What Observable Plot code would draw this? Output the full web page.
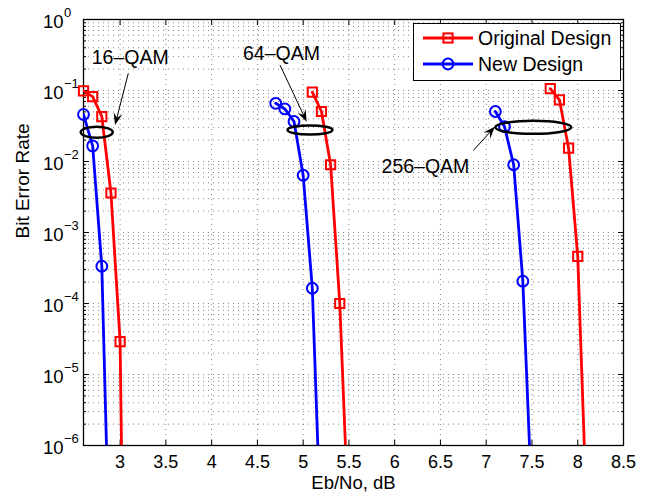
<!DOCTYPE html>
<html><head><meta charset="utf-8">
<script src="https://cdn.jsdelivr.net/npm/d3@7"></script>
<script src="https://cdn.jsdelivr.net/npm/@observablehq/plot@0.6"></script>
<style>
body{margin:0;background:#fff;}
#wrap{position:relative;width:652px;height:497px;font-family:"Liberation Sans",Arial,sans-serif;}
#legend{position:absolute;left:413px;top:23px;}
</style></head><body><div id="wrap"></div>
<script>
// ---- data ----
const xTicks = [3, 3.5, 4, 4.5, 5, 5.5, 6, 6.5, 7, 7.5, 8, 8.5];
const yExponents = [0, -1, -2, -3, -4, -5, -6];
const seriesNames = ["Original Design", "New Design"];
const xLabel = "Eb/No, dB";
const yLabel = "Bit Error Rate";

const ebno16Orig = [2.6, 2.7, 2.8, 2.9, 3.0, 3.1];
const ber16Orig  = [0.099, 0.082, 0.043, 0.0036, 2.9e-5, 5e-15];
const ebno16New  = [2.6, 2.7, 2.8, 2.9];
const ber16New   = [0.046, 0.0166, 3.35e-4, 3.8e-9];

const ebno64Orig = [5.1, 5.2, 5.3, 5.4, 5.5];
const ber64Orig  = [0.0946, 0.0506, 0.009, 1.0e-4, 5.9e-8];
const ebno64New  = [4.7, 4.8, 4.9, 5.0, 5.1, 5.2];
const ber64New   = [0.066, 0.055, 0.0366, 0.0064, 1.64e-4, 3.3e-8];

const ebno256Orig = [7.7, 7.8, 7.9, 8.0, 8.1];
const ber256Orig  = [0.106, 0.074, 0.0154, 4.6e-4, 9e-8];
const ebno256New  = [7.1, 7.2, 7.3, 7.4, 7.5];
const ber256New   = [0.0506, 0.031, 0.009, 2.06e-4, 1.4e-7];

// annotations
const annotLabels = ["16\u2013QAM", "64\u2013QAM", "256\u2013QAM"];
const labelX = [3.11, 4.763, 6.336];
const labelY = [0.292, 0.332, 0.0083];
const ellipseX = [2.75, 5.08, 7.52];
const ellipseY = [0.0254, 0.0273, 0.0298];
const arrowX1 = [3.095, 4.752, 6.864];
const arrowY1 = [0.172, 0.225, 0.014];
const arrowX2 = [2.95, 5.044, 7.10];
const arrowY2 = [0.0321, 0.0358, 0.0304];

// ---- styles ----
const RED = "#ff0000", BLUE = "#0000ff";
const ellipseR = [[16, 5.5], [22.5, 4.5], [38, 6.5]];
const FONT = "Liberation Sans, Arial, Helvetica, sans-serif";

// ---- build tables ----
function rows(xs, ys, group) { return xs.map((x, i) => ({x, y: ys[i], group})); }
const origRows = [rows(ebno16Orig, ber16Orig, "16"), rows(ebno64Orig, ber64Orig, "64"), rows(ebno256Orig, ber256Orig, "256")];
const newRows = [rows(ebno16New, ber16New, "16"), rows(ebno64New, ber64New, "64"), rows(ebno256New, ber256New, "256")];
const origAll = origRows.flat(), newAll = newRows.flat();
const visible = d => d.y >= 1e-6;

const yMajor = yExponents.map(e => Math.pow(10, e));
const yMinor = [];
for (const e of yExponents.slice(1)) for (let k = 1; k <= 9; k++) yMinor.push(k * Math.pow(10, e));
yMinor.push(1);

const expText = e => e === 0 ? "0" : "\u2212" + (-e);

const grid = {stroke: "#000", strokeOpacity: 0.6, strokeWidth: 0.8, strokeDasharray: "1,4"};

function ellipsesMark(index, scales) {
  const g = d3.create("svg:g");
  ellipseX.forEach((cx, i) => {
    g.append("ellipse")
      .attr("cx", scales.x(cx)).attr("cy", scales.y(ellipseY[i]))
      .attr("rx", ellipseR[i][0]).attr("ry", ellipseR[i][1])
      .attr("fill", "none").attr("stroke", "#000").attr("stroke-width", 2.5);
  });
  return g.node();
}
function arrowsMark(index, scales) {
  const g = d3.create("svg:g");
  arrowX1.forEach((x1, i) => {
    const ax = scales.x(x1), ay = scales.y(arrowY1[i]);
    const bx = scales.x(arrowX2[i]), by = scales.y(arrowY2[i]);
    const len = Math.hypot(bx - ax, by - ay), ux = (bx - ax) / len, uy = (by - ay) / len;
    const nx = -uy, ny = ux, L = 12, W = 9;
    const backX = bx - ux * L, backY = by - uy * L;
    const notchX = bx - ux * L * 0.62, notchY = by - uy * L * 0.62;
    g.append("line").attr("x1", ax).attr("y1", ay).attr("x2", notchX).attr("y2", notchY)
      .attr("stroke", "#000").attr("stroke-width", 1);
    g.append("path").attr("d",
      `M${bx},${by}L${backX + nx * W / 2},${backY + ny * W / 2}L${notchX},${notchY}L${backX - nx * W / 2},${backY - ny * W / 2}Z`)
      .attr("fill", "#000");
  });
  return g.node();
}

const chart = Plot.plot({
  width: 652, height: 497,
  marginLeft: 83, marginRight: 29, marginTop: 19, marginBottom: 52,
  style: {fontFamily: FONT, fontSize: "18px", background: "white", color: "black", overflow: "visible"},
  x: {domain: [2.6, 8.5]},
  y: {type: "log", domain: [1e-6, 1]},
  marks: [
    Plot.ruleY(yMinor, {y: d => d, ...grid}),
    Plot.ruleX(xTicks, {x: d => d, ...grid}),
    // axes: labels
    Plot.axisX({anchor: "bottom", ticks: xTicks, tickSize: 0, tickPadding: 10, fontSize: 18, label: null, tickFormat: d => String(d)}),
    Plot.text(yMajor, {y: d => d, frameAnchor: "left", dx: -20, dy: 3, text: () => "10", textAnchor: "end", fontSize: 18.5}),
    Plot.text(yMajor, {y: d => d, frameAnchor: "left", dx: -19.5, dy: -7, text: (d, i) => expText(yExponents[i]), textAnchor: "start", fontSize: 13}),
    Plot.text([xLabel], {frameAnchor: "bottom", dy: 43, text: d => d, fontSize: 18.5}),
    Plot.text([yLabel], {frameAnchor: "left", dx: -61, dy: 6, rotate: -90, text: d => d, fontSize: 19}),
    // inward ticks
    Plot.axisX({anchor: "bottom", ticks: xTicks, tickSize: -5, tickFormat: () => "", label: null}),
    Plot.axisX({anchor: "top", ticks: xTicks, tickSize: -5, tickFormat: () => "", label: null}),
    Plot.axisY({anchor: "left", ticks: yMajor, tickSize: -6, tickFormat: () => "", label: null}),
    Plot.axisY({anchor: "right", ticks: yMajor, tickSize: -6, tickFormat: () => "", label: null}),
    Plot.axisY({anchor: "left", ticks: yMinor, tickSize: -3, tickFormat: () => "", label: null}),
    Plot.axisY({anchor: "right", ticks: yMinor, tickSize: -3, tickFormat: () => "", label: null}),
    Plot.frame({stroke: "#000", strokeWidth: 1.3}),
    // data
    Plot.line(origAll, {x: "x", y: "y", z: "group", stroke: RED, strokeWidth: 2.8, clip: true}),
    Plot.line(newAll, {x: "x", y: "y", z: "group", stroke: BLUE, strokeWidth: 2.8, clip: true}),
    Plot.dot(origAll.filter(visible), {x: "x", y: "y", symbol: "square", r: 5.2, stroke: RED, fill: "none", strokeWidth: 2}),
    Plot.dot(newAll.filter(visible), {x: "x", y: "y", symbol: "circle", r: 5.4, stroke: BLUE, fill: "none", strokeWidth: 2}),
    // annotations
    ellipsesMark,
    arrowsMark,
    Plot.text(annotLabels, {x: (d, i) => labelX[i], y: (d, i) => labelY[i], text: d => d, fontSize: 19.5})
  ]
});
const wrap = document.getElementById("wrap");
wrap.appendChild(chart);

// legend overlay
const lg = d3.select(wrap).append("svg").attr("id", "legend").attr("width", 208).attr("height", 58);
lg.append("rect").attr("x", 0.5).attr("y", 0.5).attr("width", 207).attr("height", 57)
  .attr("fill", "white").attr("stroke", "#000").attr("stroke-width", 1);
const legendStyles = [{color: RED, sym: "square"}, {color: BLUE, sym: "circle"}];
seriesNames.forEach((name, i) => {
  const cy = 15 + i * 26;
  const s = legendStyles[i];
  lg.append("line").attr("x1", 10).attr("x2", 60).attr("y1", cy).attr("y2", cy)
    .attr("stroke", s.color).attr("stroke-width", 2.8);
  if (s.sym === "square") lg.append("rect").attr("x", 35 - 4.6).attr("y", cy - 4.6).attr("width", 9.2).attr("height", 9.2)
    .attr("fill", "none").attr("stroke", s.color).attr("stroke-width", 2);
  else lg.append("circle").attr("cx", 35).attr("cy", cy).attr("r", 5.4)
    .attr("fill", "none").attr("stroke", s.color).attr("stroke-width", 2);
  lg.append("text").attr("x", 65).attr("y", cy).attr("dy", "0.35em").attr("font-family", FONT)
    .attr("font-size", 19.5).text(name);
});
</script></body></html>
